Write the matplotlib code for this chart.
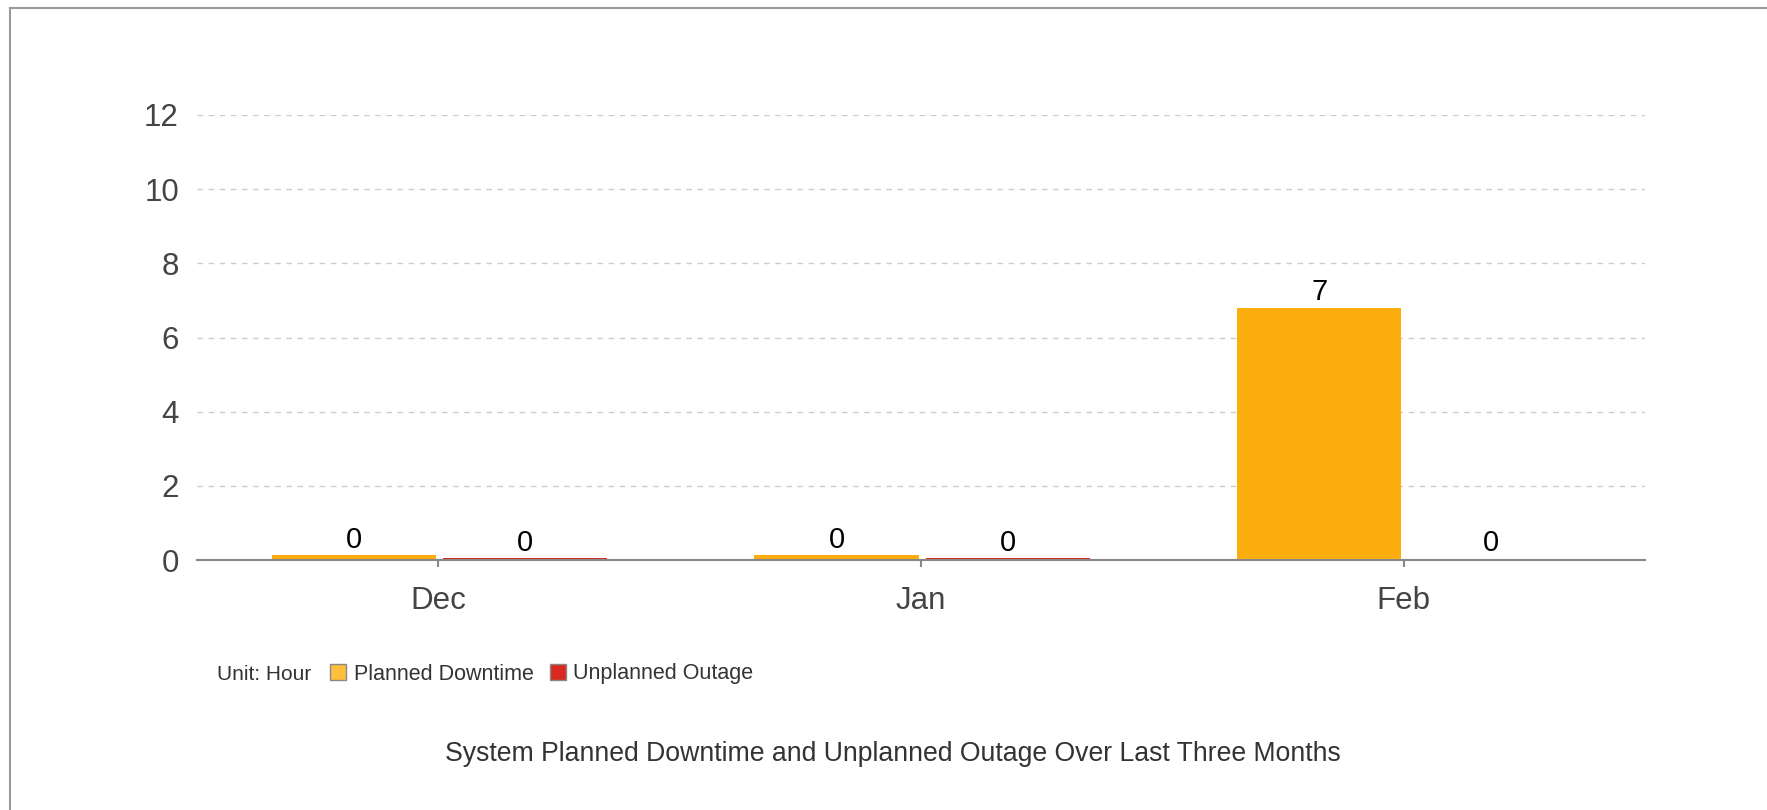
import numpy as np
import matplotlib
matplotlib.use("Agg")
import matplotlib.pyplot as plt
from matplotlib.patches import Patch
from matplotlib.lines import Line2D

plt.rcParams['font.family'] = ['Liberation Sans', 'DejaVu Sans']

months = ["Dec", "Jan", "Feb"]
planned = [0.13, 0.13, 6.8]
unplanned = [0.05, 0.05, 0.03]
yticks = [0, 2, 4, 6, 8, 10, 12]

c_planned = "#FDAE0F"
c_unplanned = "#D9291F"

fig = plt.figure(figsize=(17.67, 8.10), dpi=100)
ax = fig.add_axes([197 / 1767, 1 - 560 / 810, (1645 - 197) / 1767, (560 - 115) / 810])

x = np.arange(len(months))
w = 0.34
b1 = ax.bar(x - 0.175, planned, w, color=c_planned, zorder=3)
b2 = ax.bar(x + 0.18, unplanned, w, color=c_unplanned, zorder=3)

for bars, vals in ((b1, planned), (b2, unplanned)):
    for r, v in zip(bars, vals):
        ax.annotate(f"{v:.0f}", (r.get_x() + r.get_width() / 2, r.get_height()),
                    xytext=(0, 1), textcoords="offset points",
                    ha="center", va="bottom", fontsize=21, color="black")

ax.set_xlim(-0.5, 2.5)
ax.set_ylim(0, 12)
ax.set_yticks(yticks)
ax.set_xticks(x)
ax.set_xticklabels(months)
ax.tick_params(axis="y", length=0, pad=13, labelsize=22.5, labelcolor="#444444")
ax.tick_params(axis="x", length=5, width=1.5, color="#888888", pad=14,
               labelsize=22.5, labelcolor="#444444")
ax.grid(axis="y", linestyle=(0, (4, 4)), color="#cccccc", linewidth=1, zorder=0)
for s in ("left", "right", "top"):
    ax.spines[s].set_visible(False)
ax.spines["bottom"].set_color("#888888")
ax.spines["bottom"].set_linewidth(1.5)
ax.spines["bottom"].set_zorder(4)

# legend row
fig.text(217 / 1767, 1 - 674 / 810, "Unit: Hour", fontsize=15, color="#333333",
         ha="left", va="center")
handles = [Patch(facecolor="#FFBE3C", edgecolor="#888888", linewidth=1),
           Patch(facecolor=c_unplanned, edgecolor="#888888", linewidth=1)]
fig.legend(handles, ["Planned Downtime", "Unplanned Outage"], ncol=2,
           loc="center left", bbox_to_anchor=(330 / 1767, 1 - 674 / 810),
           frameon=False, fontsize=15.5, handlelength=0.75, handleheight=0.75,
           handletextpad=0.35, columnspacing=0.75, labelcolor="#333333",
           borderpad=0, borderaxespad=0)

fig.text(893 / 1767, 1 - 754 / 810,
         "System Planned Downtime and Unplanned Outage Over Last Three Months",
         fontsize=19.2, color="#333333", ha="center", va="center")

# outer border (left and top only visible)
fig.add_artist(Line2D([10 / 1767, 10 / 1767], [0, 1 - 8 / 810], color="#999999",
                      linewidth=1.5, transform=fig.transFigure))
fig.add_artist(Line2D([10 / 1767, 1], [1 - 8 / 810, 1 - 8 / 810], color="#999999",
                      linewidth=1.5, transform=fig.transFigure))

fig.savefig("out.png", dpi=100, facecolor="white")
